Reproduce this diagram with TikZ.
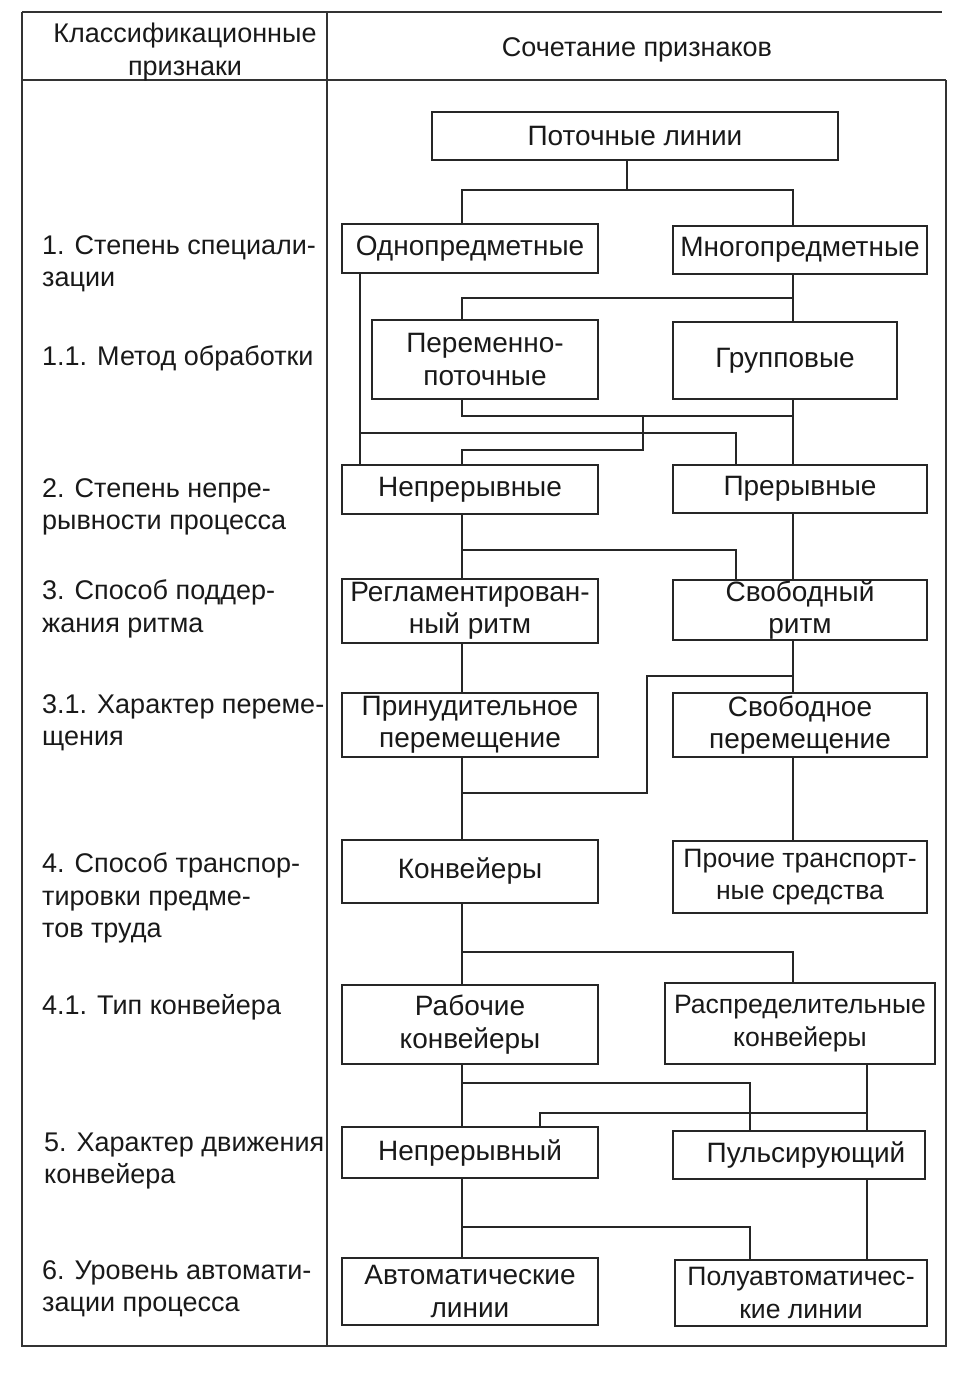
\documentclass[tikz,border=0pt]{standalone}
\usepackage{fontspec}
\setmainfont{Liberation Sans}
\begin{document}
\begin{tikzpicture}[x=1pt,y=-1pt,
  every node/.style={font=\fontsize{27}{32.5}\selectfont, text=black!90},
  bx/.style={draw=black!85, line width=1.3pt, inner sep=0pt, align=center, font=\fontsize{28}{32.5}\selectfont},
  bxs/.style={bx, font=\fontsize{26.6}{32.5}\selectfont},
  lbl/.style={anchor=west, align=left, inner sep=0pt},
  ln/.style={draw=black!85, line width=1.2pt},
  frame/.style={draw=black!80, line width=1.3pt}]
\useasboundingbox (0,0) rectangle (955,1380);
% table frame
\draw[frame] (22,12) -- (942,12);
\draw[frame] (22,80) -- (946,80);
\draw[frame] (22,12) -- (22,1346) -- (946,1346) -- (946,80);
\draw[frame] (327,12) -- (327,1346);
% header
\node[align=center, inner sep=0pt] (hA) at (185,52) {Классификационные\\признаки};
\node[inner sep=0pt] (hB) at (637,50) {Сочетание признаков};
% left labels
\node[lbl] (L1) at (42,264) {1. Степень специали-\\зации};
\node[lbl] (L11) at (42,358) {1.1. Метод обработки};
\node[lbl] (L2) at (42,507) {2. Степень непре-\\рывности процесса};
\node[lbl] (L3) at (42,609) {3. Способ поддер-\\жания ритма};
\node[lbl] (L31) at (42,723) {3.1. Характер переме-\\щения};
\node[lbl] (L4) at (42,898) {4. Способ транспор-\\тировки предме-\\тов труда};
\node[lbl] (L41) at (42,1007) {4.1. Тип конвейера};
\node[lbl] (L5) at (44,1161) {5. Характер движения\\конвейера};
\node[lbl] (L6) at (42,1289) {6. Уровень автомати-\\зации процесса};
% boxes
\node[bx, minimum width=406pt, minimum height=48pt] (b1) at (635,136) {Поточные линии};
\node[bx, minimum width=256pt, minimum height=49pt] (b2) at (470,248.5) {Однопредметные};
\node[bx, minimum width=254pt, minimum height=48pt] (b3) at (800,250) {Многопредметные};
\node[bx, minimum width=226pt, minimum height=79pt] (b4) at (485,359.5) {Переменно-\\поточные};
\node[bx, minimum width=224pt, minimum height=77pt] (b5) at (785,360.5) {Групповые};
\node[bx, minimum width=256pt, minimum height=49pt] (b6) at (470,489.5) {Непрерывные};
\node[bx, minimum width=254pt, minimum height=48pt] (b7) at (800,489) {Прерывные};
\node[bx, minimum width=256pt, minimum height=64pt] (b8) at (470,611) {Регламентирован-\\ный ритм};
\node[bx, minimum width=254pt, minimum height=60pt] (b9) at (800,610) {Свободный\\ритм};
\node[bx, minimum width=256pt, minimum height=64pt] (b10) at (470,725) {Принудительное\\перемещение};
\node[bx, minimum width=254pt, minimum height=64pt] (b11) at (800,725) {Свободное\\перемещение};
\node[bx, minimum width=256pt, minimum height=63pt] (b12) at (470,871.5) {Конвейеры};
\node[bxs, minimum width=254pt, minimum height=72pt] (b13) at (800,877) {Прочие транспорт-\\ные средства};
\node[bx, minimum width=256pt, minimum height=79pt] (b14) at (470,1024.5) {Рабочие\\конвейеры};
\node[bxs, minimum width=270pt, minimum height=81pt] (b15) at (800,1023.5) {Распределительные\\конвейеры};
\node[bx, minimum width=256pt, minimum height=51pt] (b16) at (470,1152.5) {Непрерывный};
\node[bx, minimum width=252pt, minimum height=48pt] (b17) at (799,1155) {\hspace*{14pt}Пульсирующий};
\node[bx, minimum width=256pt, minimum height=67pt] (b18) at (470,1291.5) {Автоматические\\линии};
\node[bxs, minimum width=252pt, minimum height=66pt] (b19) at (801,1293) {Полуавтоматичес-\\кие линии};
% connector columns and levels
\coordinate (cT) at (627,0);
\coordinate (cL) at (462,0);
\coordinate (cR) at (793,0);
\coordinate (cA) at (360,0);
\coordinate (cB) at (736,0);
\coordinate (cC) at (643,0);
\coordinate (cD) at (647,0);
\coordinate (cE) at (750,0);
\coordinate (cF) at (867,0);
\coordinate (cG) at (540,0);
\coordinate (h1) at (0,190);
\coordinate (h2) at (0,298);
\coordinate (h3) at (0,416);
\coordinate (h4) at (0,450);
\coordinate (h5) at (0,433);
\coordinate (h6) at (0,550);
\coordinate (h7) at (0,676);
\coordinate (h8) at (0,793);
\coordinate (h9) at (0,952);
\coordinate (h10) at (0,1083);
\coordinate (h11) at (0,1113);
\coordinate (h12) at (0,1227);
% connectors
\draw[ln] (b1.south -| cT) -- (cT |- h1);
\draw[ln] (b2.north -| cL) -- (cL |- h1) -- (cR |- h1) -- (b3.north -| cR);
\draw[ln] (b3.south -| cR) -- (b5.north -| cR);
\draw[ln] (b4.north -| cL) -- (cL |- h2) -- (cR |- h2);
\draw[ln] (b5.south -| cR) -- (b7.north -| cR);
\draw[ln] (b4.south -| cL) -- (cL |- h3) -- (cR |- h3);
\draw[ln] (cC |- h3) -- (cC |- h4) -- (cL |- h4) -- (b6.north -| cL);
\draw[ln] (b2.south -| cA) -- (b6.north -| cA);
\draw[ln] (cA |- h5) -- (cB |- h5) -- (b7.north -| cB);
\draw[ln] (b6.south -| cL) -- (b8.north -| cL);
\draw[ln] (cL |- h6) -- (cB |- h6) -- (b9.north -| cB);
\draw[ln] (b7.south -| cR) -- (b9.north -| cR);
\draw[ln] (b8.south -| cL) -- (b10.north -| cL);
\draw[ln] (b9.south -| cR) -- (b11.north -| cR);
\draw[ln] (cR |- h7) -- (cD |- h7) -- (cD |- h8) -- (cL |- h8);
\draw[ln] (b10.south -| cL) -- (b12.north -| cL);
\draw[ln] (b11.south -| cR) -- (b13.north -| cR);
\draw[ln] (b12.south -| cL) -- (b14.north -| cL);
\draw[ln] (cL |- h9) -- (cR |- h9) -- (b15.north -| cR);
\draw[ln] (b14.south -| cL) -- (b16.north -| cL);
\draw[ln] (cL |- h10) -- (cE |- h10) -- (b17.north -| cE);
\draw[ln] (b15.south -| cF) -- (b17.north -| cF);
\draw[ln] (cF |- h11) -- (cG |- h11) -- (b16.north -| cG);
\draw[ln] (b16.south -| cL) -- (b18.north -| cL);
\draw[ln] (cL |- h12) -- (cE |- h12) -- (b19.north -| cE);
\draw[ln] (b17.south -| cF) -- (b19.north -| cF);
\end{tikzpicture}
\end{document}
